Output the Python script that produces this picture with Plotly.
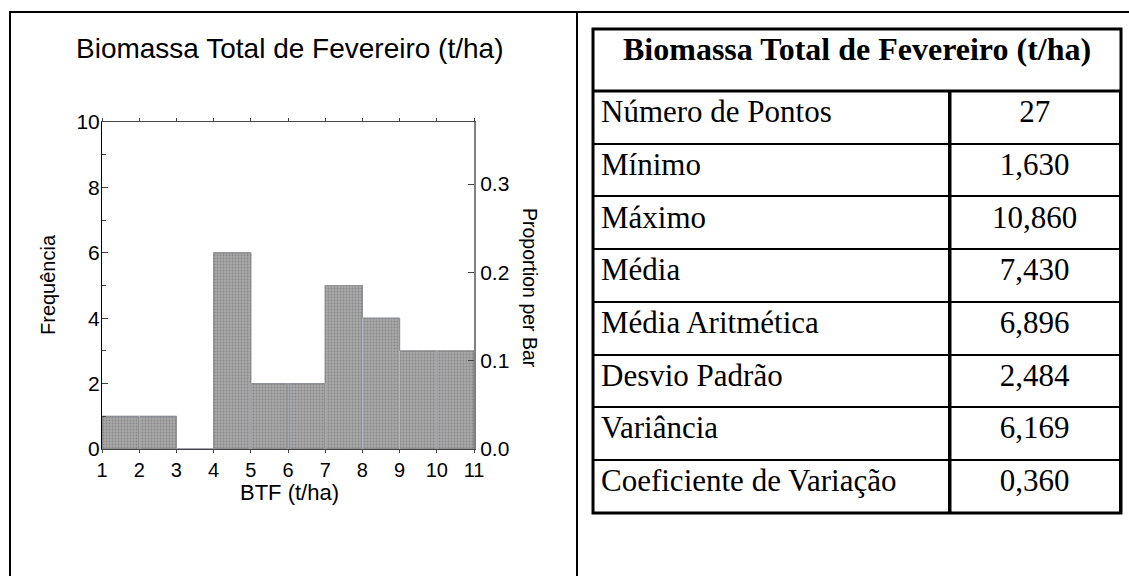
import plotly.graph_objects as go

W, H = 1129, 576

# ---- dados do histograma ----
bin_start = [1, 2, 3, 4, 5, 6, 7, 8, 9, 10]
counts = [1, 1, 0, 6, 2, 2, 5, 4, 3, 3]
total = sum(counts)
proportions = [c / total for c in counts]

x_ticks = [1, 2, 3, 4, 5, 6, 7, 8, 9, 10, 11]
freq_ticks = [0, 2, 4, 6, 8, 10]
prop_ticks = [0.0, 0.1, 0.2, 0.3]

# ---- dados da tabela ----
table_title = "Biomassa Total de Fevereiro (t/ha)"
stat_names = ["Número de Pontos", "Mínimo", "Máximo", "Média", "Média Aritmética",
              "Desvio Padrão", "Variância", "Coeficiente de Variação"]
stat_values = ["27", "1,630", "10,860", "7,430", "6,896", "2,484", "6,169", "0,360"]


def px_x(v):
    return v / W


def px_y(v):
    return 1 - v / H


sans = "Liberation Sans, Arial, sans-serif"
serif = "Liberation Serif, Times New Roman, serif"

fig = go.Figure()

fig.add_trace(go.Bar(
    x=bin_start, y=counts, width=1, offset=0,
    marker=dict(color="#a0a0a0", line=dict(color="#3a3a3a", width=1),
                pattern=dict(shape=".", fgcolor="#686868", bgcolor="#a8a8a8", size=3, solidity=0.35)),
    hoverinfo="skip", showlegend=False,
))
# mesma distribuicao na escala de proporcao (eixo da direita)
fig.add_trace(go.Bar(
    x=bin_start, y=proportions, width=1, offset=0, yaxis="y2",
    marker=dict(color="rgba(0,0,0,0)"), hoverinfo="skip", showlegend=False,
))

# tabela de estatisticas (a primeira linha vai no header para nao sobrar faixa vazia)
cell_line = dict(color="black", width=2)
row_font = dict(family=serif, size=31, color="black")
fig.add_trace(go.Table(
    domain=dict(x=[px_x(593), px_x(1121)], y=[px_y(513), px_y(91)]),
    columnwidth=[357, 171],
    header=dict(values=[stat_names[0], stat_values[0]], height=52.7, align=["left", "center"],
                fill_color="white", line=cell_line, font=row_font),
    cells=dict(values=[stat_names[1:], stat_values[1:]], height=52.7, align=["left", "center"],
               fill_color="white", line=cell_line, font=row_font),
))

tickfont = dict(family=sans, size=21, color="black")
fig.update_layout(
    width=W, height=H, margin=dict(l=0, r=0, t=0, b=0, autoexpand=False),
    paper_bgcolor="white", plot_bgcolor="white", barmode="overlay",
    xaxis=dict(domain=[px_x(102), px_x(474)], range=[1, 11], tickvals=x_ticks,
               showgrid=False, zeroline=False, showline=True, linecolor="#444", linewidth=1,
               ticks="outside", ticklen=3, tickcolor="#444", mirror="ticks",
               tickfont=dict(family=sans, size=20, color="black"), ticklabelstandoff=0,
               automargin=False),
    yaxis=dict(domain=[px_y(449), px_y(122)], range=[0, 10], tickvals=freq_ticks,
               showgrid=False, zeroline=False, showline=True, linecolor="black", linewidth=1,
               ticks="inside", ticklen=6, tickcolor="#444",
               minor=dict(dtick=1, ticks="inside", ticklen=4, tickcolor="#444"),
               tickfont=tickfont, ticklabelstandoff=-3, automargin=False),
    yaxis2=dict(overlaying="y", side="right", anchor="x", range=[0, 10 / total],
                tickvals=prop_ticks, tickformat=".1f",
                showgrid=False, zeroline=False, showline=True, linecolor="#808080", linewidth=2,
                ticks="inside", ticklen=6, tickcolor="#444", tickfont=tickfont,
                ticklabelstandoff=0, automargin=False),
)

# titulos
ann = dict(xref="paper", yref="paper", showarrow=False, xanchor="center", yanchor="middle")
fig.add_annotation(text="Biomassa Total de Fevereiro (t/ha)", x=px_x(289), y=px_y(48),
                   font=dict(family=sans, size=28, color="black"), **ann)
fig.add_annotation(text="BTF (t/ha)", x=px_x(289), y=px_y(492),
                   font=dict(family=sans, size=22, color="black"), **ann)
fig.add_annotation(text="Frequência", x=px_x(48), y=px_y(285), textangle=-90,
                   font=dict(family=sans, size=20, color="black"), **ann)
fig.add_annotation(text="Proportion per Bar", x=px_x(530), y=px_y(288), textangle=90,
                   font=dict(family=sans, size=19.5, color="black"), **ann)
# cabecalho da tabela
fig.add_annotation(text="<b>" + table_title + "</b>", x=px_x(857), y=px_y(49),
                   font=dict(family=serif, size=32, color="black"), **ann)

# molduras
line = dict(color="black", width=2)
fig.add_shape(type="line", xref="paper", yref="paper", x0=px_x(9), x1=1, y0=px_y(12), y1=px_y(12), line=line)
fig.add_shape(type="line", xref="paper", yref="paper", x0=px_x(10), x1=px_x(10), y0=px_y(12), y1=0, line=line)
fig.add_shape(type="line", xref="paper", yref="paper", x0=px_x(577), x1=px_x(577), y0=px_y(12), y1=0, line=line)
thick = dict(color="black", width=3)
fig.add_shape(type="rect", xref="paper", yref="paper", x0=px_x(593), x1=px_x(1121),
              y0=px_y(513), y1=px_y(29), line=thick, layer="above")
fig.add_shape(type="line", xref="paper", yref="paper", x0=px_x(593), x1=px_x(1121),
              y0=px_y(91), y1=px_y(91), line=thick, layer="above")
fig.add_shape(type="line", xref="paper", yref="paper", x0=px_x(950), x1=px_x(950),
              y0=px_y(513), y1=px_y(91), line=thick, layer="above")

fig.write_html("out.html", config={"displayModeBar": False},
               post_script="document.body.style.margin='0';document.body.style.overflow='hidden';")
